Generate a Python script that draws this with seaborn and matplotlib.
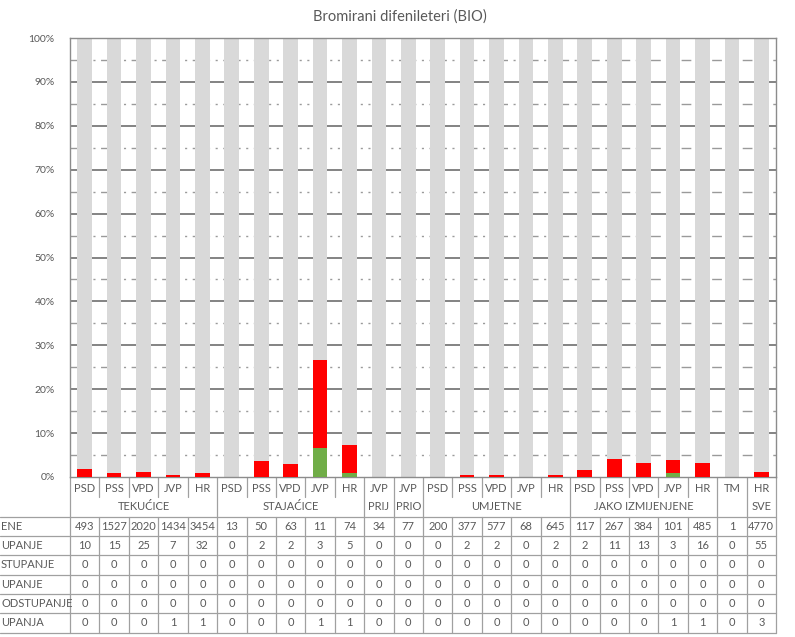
import numpy as np
import pandas as pd
import matplotlib
matplotlib.use("Agg")
import matplotlib.pyplot as plt
import matplotlib.transforms as mtransforms
from matplotlib.lines import Line2D
from matplotlib.ticker import MultipleLocator, PercentFormatter
import seaborn as sns

# column labels (first table row) and group labels (second table row)
categories = ["PSD", "PSS", "VPD", "JVP", "HR",
              "PSD", "PSS", "VPD", "JVP", "HR",
              "JVP", "JVP",
              "PSD", "PSS", "VPD", "JVP", "HR",
              "PSD", "PSS", "VPD", "JVP", "HR",
              "TM", "HR"]
group_names = ["TEKUĆICE", "STAJAĆICE", "PRIJ", "PRIO", "UMJETNE", "JAKO IZMIJENJENE", "", "SVE"]
group_sizes = [5, 5, 1, 1, 5, 5, 1, 1]

# share of sites per class (%)
pct_total = [1.8, 0.9, 1.1, 0.5, 0.9,
             0, 3.7, 2.9, 26.6, 7.4,
             0, 0,
             0, 0.5, 0.35, 0, 0.35,
             1.7, 4.0, 3.3, 3.8, 3.3,
             0, 1.2]
pct_green = [0, 0, 0, 0, 0,
             0, 0, 0, 6.5, 0.9,
             0, 0,
             0, 0, 0, 0, 0,
             0, 0, 0, 0.8, 0,
             0, 0]

# table rows
row_labels = ["ENE", "UPANJE", "STUPANJE", "UPANJE", "ODSTUPANJE", "UPANJA"]
row_ocijenjene = [493, 1527, 2020, 1434, 3454, 13, 50, 63, 11, 74, 34, 77,
                  200, 377, 577, 68, 645, 117, 267, 384, 101, 485, 1, 4770]
row_odstupanje = [10, 15, 25, 7, 32, 0, 2, 2, 3, 5, 0, 0,
                  0, 2, 2, 0, 2, 2, 11, 13, 3, 16, 0, 55]
row_zero = [0] * 24
row_last = [0, 0, 0, 1, 1, 0, 0, 0, 1, 1, 0, 0,
            0, 0, 0, 0, 0, 0, 0, 0, 1, 1, 0, 3]
table_rows = [row_ocijenjene, row_odstupanje, row_zero, row_zero, row_zero, row_last]

W, H = 795, 637
txt_col = "#595959"
line_col = "#a0a0a0"

sns.set_style("white")
plt.rcParams["font.family"] = ["Lato", "DejaVu Sans"]

ids = [str(i) for i in range(len(categories))]
df = pd.DataFrame({"id": ids, "total": pct_total, "green": pct_green})
df["full"] = 100.0

fig = plt.figure(figsize=(W / 100, H / 100), dpi=100)
ax = fig.add_axes([70 / W, 1 - 477 / H, 706 / W, (477 - 38) / H])

# overlapping bars give the stacked look: grey to 100%, red total, green part
sns.barplot(data=df, x="id", y="full", order=ids, color="#d9d9d9", saturation=1,
            width=0.5, linewidth=0, ax=ax, zorder=2)
sns.barplot(data=df, x="id", y="total", order=ids, color="#ff0000", saturation=1,
            width=0.5, linewidth=0, ax=ax, zorder=3)
sns.barplot(data=df, x="id", y="green", order=ids, color="#70ad47", saturation=1,
            width=0.5, linewidth=0, ax=ax, zorder=4)

ax.set_xlim(-0.5, len(ids) - 0.5)
ax.set_ylim(0, 100)
ax.set_xlabel("")
ax.set_ylabel("")
ax.yaxis.set_major_locator(MultipleLocator(10))
ax.yaxis.set_minor_locator(MultipleLocator(5))
ax.yaxis.set_major_formatter(PercentFormatter(decimals=0))

# gridlines behind the bars
major = np.arange(10, 100, 10)
minor = np.arange(5, 100, 10)
ax.hlines(major, -0.5, len(ids) - 0.5, colors="#7a7a7a", lw=1.3, zorder=1)
ax.hlines(minor, -0.5, len(ids) - 0.5, colors="#9a9a9a", lw=1.0,
          linestyles=[(0, (7, 4, 1.5, 4, 1.5, 4))], zorder=1)

ax.tick_params(axis="y", which="both", direction="out", length=5, color="#8c8c8c",
               labelsize=7.5, labelcolor=txt_col, pad=6)
ax.tick_params(axis="x", length=0, labelbottom=False)
for side in ["left", "bottom", "top", "right"]:
    ax.spines[side].set_color("#8c8c8c")
    ax.spines[side].set_linewidth(1)

fig.text(400 / W, 1 - 17 / H, "Bromirani difenileteri (BIO)", ha="center", va="center",
         fontsize=10.5, color=txt_col)

# data table under the axis
trans = mtransforms.blended_transform_factory(ax.transData, fig.transFigure)


def fy(py):
    return 1 - py / H


def vline(x, y0, y1):
    ax.add_line(Line2D([x, x], [fy(y0), fy(y1)], transform=trans, color=line_col,
                       lw=0.9, clip_on=False))


n = len(categories)
row_lines = [516.7, 536, 555.3, 574.7, 594, 613.3, 632.7]
right_fig = ax.get_position().x1
for y in row_lines:
    fig.add_artist(Line2D([0, right_fig], [fy(y), fy(y)], transform=fig.transFigure,
                          color=line_col, lw=0.9))

group_edges = np.cumsum([0] + group_sizes)
for i in range(n + 1):
    x = i - 0.5
    if i in group_edges:
        vline(x, 477, 632.7)
    else:
        vline(x, 477, 497)
        vline(x, 516.7, 632.7)

for i, lab in enumerate(categories):
    ax.text(i, fy(488), lab, transform=trans, ha="center", va="center",
            fontsize=8, color=txt_col, clip_on=False)

for g, name in enumerate(group_names):
    mid = (group_edges[g] + group_edges[g + 1] - 1) / 2
    ax.text(mid, fy(506), name, transform=trans, ha="center", va="center",
            fontsize=8, color=txt_col, clip_on=False)

for r, (lab, vals) in enumerate(zip(row_labels, table_rows)):
    yc = (row_lines[r] + row_lines[r + 1]) / 2
    fig.text(1 / W, fy(yc), lab, ha="left", va="center", fontsize=8, color=txt_col)
    for i, v in enumerate(vals):
        ax.text(i, fy(yc), str(v), transform=trans, ha="center", va="center",
                fontsize=8, color=txt_col, clip_on=False)

fig.savefig("out.png", dpi=100)
